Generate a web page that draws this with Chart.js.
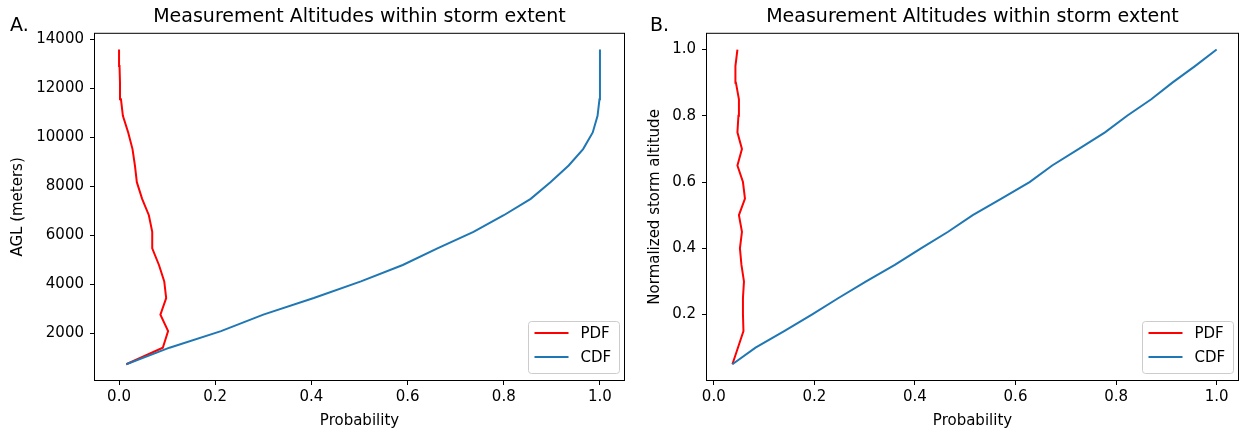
<!DOCTYPE html>
<html>
<head>
<meta charset="utf-8">
<script src="https://cdn.jsdelivr.net/npm/chart.js@4.4.1/dist/chart.umd.min.js"></script>
<style>
  body { margin: 0; background: #fff; }
  #wrap { position: relative; width: 1241px; height: 433px; }
  canvas { position: absolute; top: 0; }
  #chartA { left: 0; }
  #chartB { left: 635px; }
  .tag { position: absolute; top: 15px; font: 19px "DejaVu Sans"; line-height: 19px; color: #000; }
</style>
</head>
<body>
<div id="wrap">
  <canvas id="chartA" width="635" height="433"></canvas>
  <canvas id="chartB" width="606" height="433"></canvas>
  <div class="tag" style="left:10px">A.</div>
  <div class="tag" style="left:650px">B.</div>
</div>
<script>
// panel A: altitude above ground (m)
const altA = [750, 1425, 2100, 2775, 3450, 4130, 4800, 5480, 6150, 6830,
  7500, 8180, 8860, 9530, 10210, 10890, 11560, 12240, 12920, 13590];
const pdfA = [0.015, 0.091, 0.102, 0.086, 0.098, 0.094, 0.083, 0.069, 0.069, 0.062,
  0.048, 0.037, 0.033, 0.028, 0.019, 0.008, 0.004, 0.002, 0.001, 0.0];
const cdfA = [0.015, 0.105, 0.212, 0.30, 0.405, 0.503, 0.59, 0.662, 0.737, 0.80,
  0.856, 0.897, 0.935, 0.965, 0.985, 0.995, 0.999, 1.0, 1.0, 1.0];

// panel B: normalized storm altitude
const altB = [0.05, 0.10, 0.15, 0.20, 0.25, 0.30, 0.35, 0.40, 0.45, 0.50,
  0.55, 0.60, 0.65, 0.70, 0.75, 0.80, 0.85, 0.90, 0.95, 1.0];
const pdfB = [0.037, 0.048, 0.059, 0.058, 0.058, 0.060, 0.055, 0.052, 0.056, 0.050,
  0.062, 0.058, 0.047, 0.056, 0.047, 0.049, 0.050, 0.044, 0.043, 0.047];
const cdfB = [0.037, 0.083, 0.14, 0.195, 0.248, 0.303, 0.36, 0.412, 0.466, 0.515,
  0.572, 0.628, 0.673, 0.726, 0.778, 0.822, 0.87, 0.912, 0.957, 1.0];

const probTicks = [0, 0.2, 0.4, 0.6, 0.8, 1.0];
const altTicksA = [2000, 4000, 6000, 8000, 10000, 12000, 14000];
const altTicksB = [0.2, 0.4, 0.6, 0.8, 1.0];

const FAMILY = "'DejaVu Sans'";
const tickFont = { family: FAMILY, size: 15 };

// frame around plot + legend box in lower right
const frameAndLegend = {
  id: "frameAndLegend",
  afterDatasetsDraw(chart) {
    const { ctx, chartArea: a } = chart;
    ctx.save();
    ctx.strokeStyle = "#000";
    ctx.lineWidth = 1;
    ctx.strokeRect(a.left - 0.5, a.top - 0.5, a.right - a.left + 1, a.bottom - a.top + 1);

    const w = 91, h = 52;
    const x = Math.round(a.right - w - 5) + 0.5, y = Math.round(a.bottom - h - 7) + 0.5;
    ctx.beginPath();
    ctx.roundRect(x, y, w, h, 3);
    ctx.fillStyle = "rgba(255,255,255,0.8)";
    ctx.fill();
    ctx.strokeStyle = "#cccccc";
    ctx.stroke();
    ctx.font = "15px " + FAMILY;
    ctx.textBaseline = "middle";
    chart.data.datasets.forEach((ds, i) => {
      const ly = y + 11.5 + i * 24;
      ctx.strokeStyle = ds.borderColor;
      ctx.lineWidth = 2;
      ctx.beginPath();
      ctx.moveTo(x + 6, ly);
      ctx.lineTo(x + 40, ly);
      ctx.stroke();
      ctx.fillStyle = "#000";
      ctx.fillText(ds.label, x + 52, ly + 1);
    });
    ctx.restore();
  },
};

function makePanel(id, alt, pdf, cdf, cfg) {
  const pts = (vals) => vals.map((p, i) => ({ x: p, y: alt[i] }));
  return new Chart(document.getElementById(id), {
    type: "line",
    data: {
      datasets: [
        { label: "PDF", data: pts(pdf), borderColor: "#ff0000", order: 1 },
        { label: "CDF", data: pts(cdf), borderColor: "#1f77b4", order: 0 },
      ],
    },
    options: {
      responsive: false,
      animation: false,
      layout: { padding: { right: cfg.padRight } },
      elements: {
        point: { radius: 0 },
        line: { borderWidth: 2, tension: 0, fill: false },
      },
      plugins: {
        legend: { display: false },
        tooltip: { enabled: false },
        title: {
          display: true,
          text: "Measurement Altitudes within storm extent",
          fullSize: false,
          color: "#000",
          font: { family: FAMILY, size: 19, weight: "normal" },
          padding: { top: 6, bottom: 5 },
        },
      },
      scales: {
        x: {
          type: "linear",
          min: cfg.xMin,
          max: cfg.xMax,
          afterBuildTicks: (s) => { s.ticks = probTicks.map((v) => ({ value: v })); },
          afterFit: (s) => { s.height = 53; },
          ticks: { callback: (v) => v.toFixed(1), font: tickFont, color: "#000", padding: 3, maxRotation: 0, autoSkip: false },
          grid: { drawOnChartArea: false, drawTicks: true, tickLength: 5, color: "#000" },
          border: { display: false },
          title: { display: true, text: "Probability", color: "#000", font: tickFont, padding: { top: 0, bottom: 3 } },
        },
        y: {
          type: "linear",
          min: cfg.yMin,
          max: cfg.yMax,
          afterBuildTicks: (s) => { s.ticks = cfg.yTicks.map((v) => ({ value: v })); },
          afterFit: (s) => { s.width = cfg.leftW; },
          ticks: { callback: cfg.yFmt, font: tickFont, color: "#000", padding: 6, autoSkip: false },
          grid: { drawOnChartArea: false, drawTicks: true, tickLength: 5, color: "#000" },
          border: { display: false },
          title: { display: true, text: cfg.yTitle, color: "#000", font: tickFont, padding: { top: cfg.yTitlePad, bottom: 0 } },
        },
      },
    },
    plugins: [frameAndLegend],
  });
}

makePanel("chartA", altA, pdfA, cdfA, {
  xMin: -0.05, xMax: 1.05, yMin: 106, yMax: 14235,
  yTicks: altTicksA, yFmt: (v) => String(v), yTitle: "AGL (meters)",
  leftW: 95, padRight: 11, yTitlePad: 9,
});

makePanel("chartB", altB, pdfB, cdfB, {
  xMin: -0.0135, xMax: 1.0425, yMin: 0.0025, yMax: 1.0475,
  yTicks: altTicksB, yFmt: (v) => v.toFixed(1), yTitle: "Normalized storm altitude",
  leftW: 72, padRight: 3, yTitlePad: 11.5,
});
</script>
</body>
</html>
